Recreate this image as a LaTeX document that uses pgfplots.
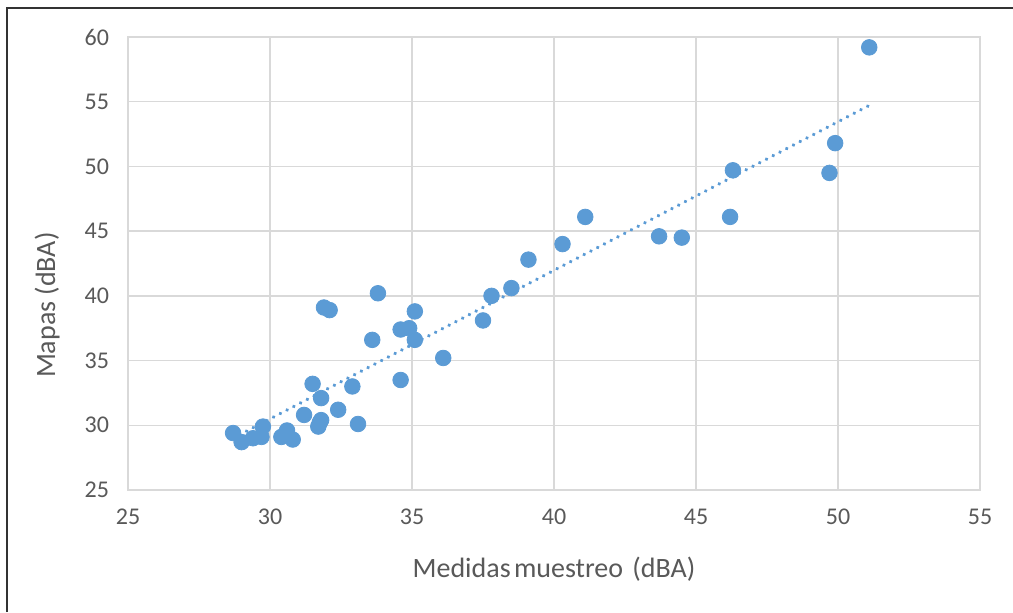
\documentclass[border=0pt]{standalone}
\usepackage{pgfplots}
\pgfplotsset{compat=1.18}
\usepackage{fontspec}
\setmainfont{Carlito}
\definecolor{mblue}{HTML}{5B9BD5}
\definecolor{gridc}{HTML}{D9D9D9}
\definecolor{txt}{HTML}{595959}
\begin{document}
\begin{tikzpicture}
\useasboundingbox (0,0) rectangle (506.5pt,306pt);
\fill[white] (0,0) rectangle (506.5pt,306pt);
\draw[line width=1.2pt, black!80] (3.5pt,0) -- (3.5pt,302pt) -- (506.5pt,302pt);
\begin{axis}[
  at={(64pt,61pt)}, anchor=south west,
  scale only axis, width=426pt, height=226.5pt,
  xmin=25, xmax=55, ymin=25, ymax=60,
  xtick={25,30,...,55}, ytick={25,30,...,60},
  grid=major, major grid style={gridc, line width=0.7pt},
  axis line style={gridc, line width=0.7pt},
  major tick length=0pt,
  tick label style={font=\fontsize{12}{14}\selectfont, text=txt},
  /pgf/number format/assume math mode=true,
  xticklabel style={yshift=-6pt},
  yticklabel style={xshift=-6pt},
  xlabel={Medidas\hspace{-1.5pt} muestreo\hspace{1.5pt} (dBA)},
  ylabel={Mapas (dBA)},
  label style={font=\fontsize{14}{16}\selectfont, text=txt},
  xlabel style={yshift=-9pt},
  ylabel style={at={(axis description cs:-0.095,0.408)}, anchor=center},
  clip=false,
]
\addplot[only marks, mark=*, mark size=3.9pt, mblue, mark options={draw=mblue, fill=mblue}] coordinates {
(51.1,59.2) (49.9,51.8) (49.7,49.5) (46.3,49.7) (46.2,46.1)
(43.7,44.6) (44.5,44.5) (41.1,46.1) (40.3,44.0) (39.1,42.8)
(38.5,40.6) (37.8,40.0) (37.5,38.1) (36.1,35.2) (35.1,38.8)
(35.1,36.6) (34.9,37.5) (34.6,37.4) (34.6,33.5) (33.8,40.2)
(33.6,36.6) (31.9,39.1) (32.1,38.9) (32.9,33.0) (33.1,30.1)
(32.4,31.2) (31.5,33.2) (31.8,32.1) (31.2,30.8) (31.8,30.4)
(31.7,29.9) (31.75,30.2) (30.4,29.1) (30.6,29.6) (30.8,28.9)
(28.7,29.4) (29.0,28.7) (29.4,29.0) (29.7,29.1) (29.75,29.9)
};
\addplot[mblue, line width=1.9pt, line cap=round, dash pattern=on 0.01pt off 3.8pt] coordinates {
(28.7,29.0) (51.13,54.75)
};
\end{axis}
\end{tikzpicture}
\end{document}
